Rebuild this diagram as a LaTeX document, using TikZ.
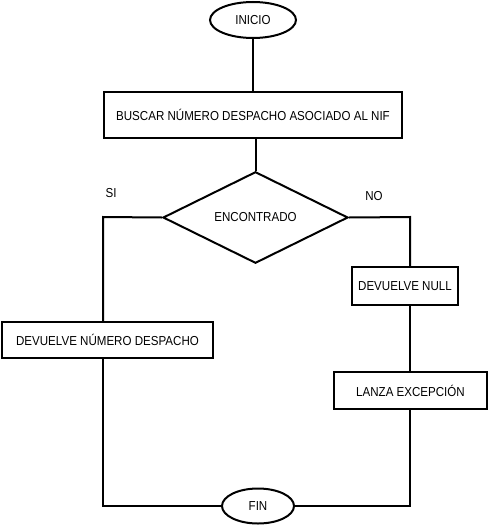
\documentclass[tikz,border=0pt]{standalone}
\usepackage{fontspec}
\setmainfont{Liberation Sans}[FakeStretch=0.89]
\usetikzlibrary{shapes.geometric}
\begin{document}
\begin{tikzpicture}[x=1pt,y=-1pt,
  every node/.style={font=\fontsize{13}{15}\selectfont, inner sep=0pt},
  box/.style={draw, line width=2pt, rectangle},
  term/.style={draw, line width=2pt, ellipse},
  decis/.style={draw, line width=2pt, diamond},
  conn/.style={line width=2pt}]
\useasboundingbox[fill=white] (0,0) rectangle (489,527);
\node[term, minimum width=86, minimum height=36] (inicio) at (253,20) {INICIO};
\node[box, minimum width=298, minimum height=46] (buscar) at (253,115) {BUSCAR NÚMERO DESPACHO ASOCIADO AL NIF};
\node[decis, minimum width=185, minimum height=91] (dec) at (255.5,217.5) {ENCONTRADO};
\node[box, minimum width=211, minimum height=36] (si) at (107.5,340) {DEVUELVE NÚMERO DESPACHO};
\node[box, minimum width=106, minimum height=38] (null) at (405,286) {DEVUELVE NULL};
\node[box, minimum width=153, minimum height=37] (lanza) at (410.5,390.5) {LANZA EXCEPCIÓN};
\node[term, minimum width=72, minimum height=35] (fin) at (258,506) {FIN};
\node (lsi) at (111,193) {SI};
\node (lno) at (374,196) {NO};
\coordinate (cL) at (103,217);
\coordinate (cLb) at (103,506);
\coordinate (cR) at (410,217);
\coordinate (cRb) at (410,506);
\draw[conn] (inicio.south) -- (inicio.south |- buscar.north);
\draw[conn] (buscar.south -| dec.north) -- (dec.north);
\draw[conn] (dec.west) -- (cL) -- (cL |- si.north);
\draw[conn] (cL |- si.south) -- (cLb) -- (fin.west);
\draw[conn] (dec.east) -- (cR) -- (cR |- null.north);
\draw[conn] (cR |- null.south) -- (cR |- lanza.north);
\draw[conn] (cR |- lanza.south) -- (cRb) -- (fin.east);
\end{tikzpicture}
\end{document}
